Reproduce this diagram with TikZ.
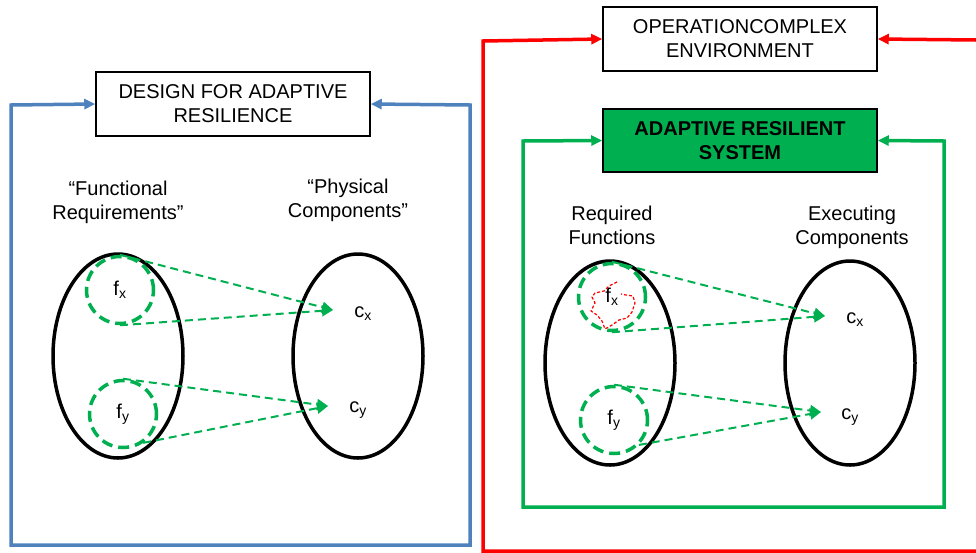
\documentclass[tikz,border=0pt]{standalone}
\usepackage{fontspec}
\setmainfont{Liberation Sans}
\usetikzlibrary{arrows.meta,shapes.geometric}
\definecolor{loopblue}{RGB}{79,129,189}
\definecolor{okgreen}{RGB}{0,176,80}
\definecolor{alertred}{RGB}{255,0,0}

\begin{document}
\begin{tikzpicture}[x=1pt,y=-1pt,
  every node/.style={font=\fontsize{20}{24}\selectfont, align=center, inner sep=0pt},
  titlebox/.style={draw=black, line width=1.5pt, minimum width=274pt, minimum height=64pt, fill=white},
  setoval/.style={draw=black, ellipse, line width=3.5pt, minimum width=130pt, minimum height=204pt},
  fring/.style={circle, draw=okgreen, line width=3.5pt, dash pattern=on 11pt off 6pt, minimum size=67pt},
  mapping/.style={draw=okgreen, line width=2pt, dash pattern=on 8pt off 5pt, -{Triangle[length=11pt,width=11pt]}},
  headtip/.style={-{Triangle[length=11pt,width=10pt]}},
  feedback/.style={line width=3.5pt, line join=miter, {Triangle[length=11pt,width=10pt]}-{Triangle[length=11pt,width=10pt]}}
]
\useasboundingbox (0,0) rectangle (976,552);

% ---------- Design view ----------
\node[titlebox] (design) at (233,104) {DESIGN FOR ADAPTIVE\\RESILIENCE};
\node (funcreq) at (118,202) {“Functional\\Requirements”};
\node (physcomp) at (348,200) {“Physical\\Components”};

\node[setoval] (fset) at (118,356) {};
\node[setoval] (cset) at (358,356) {};

\node[fring] (fx) at (120,290) {f\textsubscript{x}};
\node[fring] (fy) at (123,414) {f\textsubscript{y}};
\node (cx) at (363,314) {c\textsubscript{x}};
\node (cy) at (358,410) {c\textsubscript{y}};

\coordinate (tipcx) at (333,310);
\coordinate (tipcy) at (328,406);
\draw[mapping] (fx.north) -- (tipcx);
\draw[mapping] (fx.south) -- (tipcx);
\draw[mapping] (fy.north) -- (tipcy);
\draw[mapping] (fy.-55) -- (tipcy);

\coordinate (bl1) at (11,105);
\coordinate (bl2) at (11,545);
\coordinate (bl3) at (470,545);
\coordinate (bl4) at (470,105);
\draw[feedback, draw=loopblue] (design.west) -- (bl1) -- (bl2) -- (bl3) -- (bl4) -- (design.east);

% ---------- Operation view ----------
\node[titlebox] (operenv) at (740,39) {OPERATIONCOMPLEX\\ENVIRONMENT};
\node[titlebox, fill=okgreen, minimum height=63pt, font=\fontsize{20}{24}\selectfont\bfseries] (ars) at (740,140.5) {ADAPTIVE RESILIENT\\SYSTEM};

\node (reqfun) at (612,225) {Required\\Functions};
\node (execcomp) at (852,227) {Executing\\Components};

\node[setoval] (rset) at (610,363) {};
\node[setoval] (eset) at (850,363) {};

% disturbed function
\draw[alertred, line width=1.2pt, dash pattern=on 3pt off 2pt, line join=round]
  (617,282) -- (609,286) -- (604,291) -- (595,293) -- (592,297) -- (595,303)
  -- (591,311) -- (597,315) -- (602,321) -- (605,329) -- (612,325) -- (619,320)
  -- (627,318) -- (632,312) -- (635,303) -- (633,296) -- (626,295) -- (621,294);

\node[fring] (rfx) at (612,297) {f\textsubscript{x}};
\node[fring] (rfy) at (614,420) {f\textsubscript{y}};
\node (rcx) at (855,320) {c\textsubscript{x}};
\node (rcy) at (850,417) {c\textsubscript{y}};

\coordinate (tiprcx) at (825,316);
\coordinate (tiprcy) at (821,412);
\draw[mapping] (rfx.north) -- (tiprcx);
\draw[mapping] (rfx.south) -- (tiprcx);
\draw[mapping] (rfy.north) -- (tiprcy);
\draw[mapping] (rfy.-45) -- (tiprcy);

\coordinate (gl1) at (523,141);
\coordinate (gl2) at (523,507);
\coordinate (gl3) at (944,507);
\coordinate (gl4) at (944,141);
\draw[feedback, draw=okgreen] (ars.west) -- (gl1) -- (gl2) -- (gl3) -- (gl4) -- (ars.east);

\coordinate (rl1) at (976,551);
\coordinate (rl2) at (483,551);
\coordinate (rl3) at (483,41);
\coordinate (rr) at (976,40);
\draw[line width=3.5pt, line join=miter, draw=alertred, headtip] (rl1) -- (rl2) -- (rl3) -- (operenv.west);
\draw[line width=3.5pt, draw=alertred, headtip] (rr) -- (operenv.east);
\end{tikzpicture}
\end{document}
